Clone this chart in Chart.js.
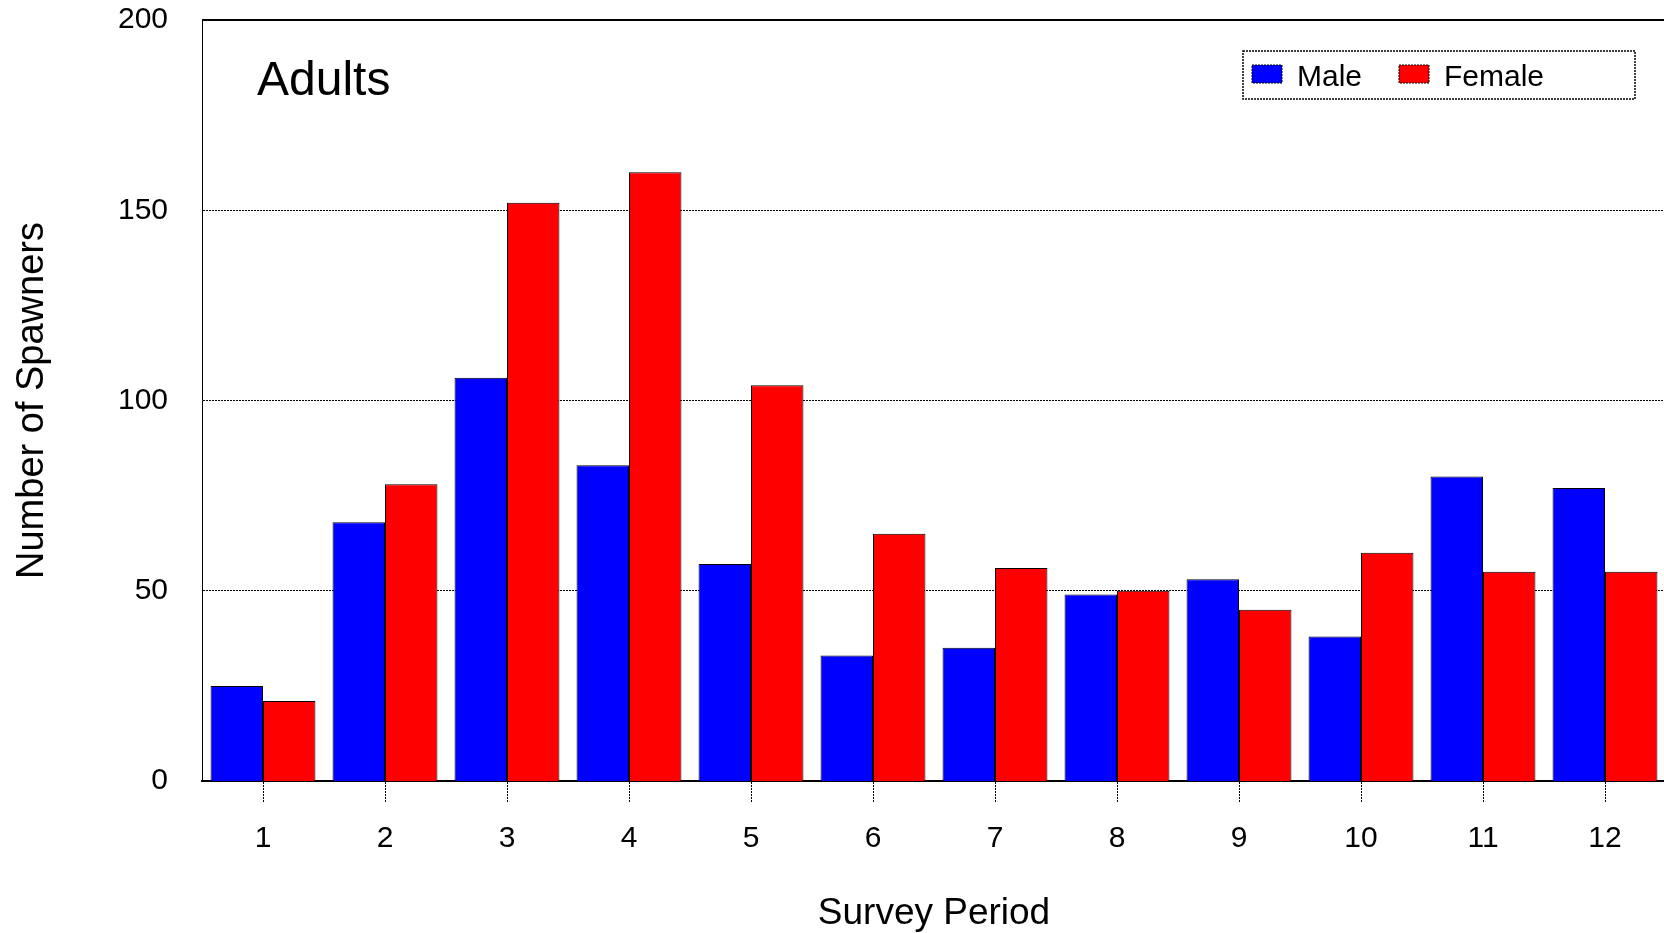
<!DOCTYPE html>
<html>
<head>
<meta charset="utf-8">
<script src="https://cdn.jsdelivr.net/npm/chart.js@4/dist/chart.umd.min.js"></script>
<style>
  html, body { margin: 0; padding: 0; background: #fff; overflow: hidden; }
  #wrap { width: 1700px; height: 933px; }
</style>
</head>
<body>
<div id="wrap"><canvas id="chart" width="1700" height="933"></canvas></div>
<script>
// survey periods along the x axis
const periods = ['1', '2', '3', '4', '5', '6', '7', '8', '9', '10', '11', '12'];
// spawner counts
const maleCounts = [25, 68, 106, 83, 57, 33, 35, 49, 53, 38, 80, 77];
const femaleCounts = [21, 78, 152, 160, 104, 65, 56, 50, 45, 60, 55, 55];
const yTicks = [0, 50, 100, 150, 200];
const panelLabel = 'Adults';

const FONT = "'Liberation Sans', Arial, sans-serif";

// draws the "Adults" label, top frame line and the boxed legend inside the plot
const insidePlot = {
  id: 'insidePlot',
  afterDraw(chart) {
    const ctx = chart.ctx;
    const area = chart.chartArea;
    ctx.save();

    // solid top frame
    ctx.strokeStyle = '#000';
    ctx.lineWidth = 2;
    ctx.beginPath();
    ctx.moveTo(area.left, area.top);
    ctx.lineTo(area.right, area.top);
    ctx.stroke();

    // panel label
    ctx.fillStyle = '#000';
    ctx.font = '48px ' + FONT;
    ctx.textBaseline = 'alphabetic';
    ctx.textAlign = 'left';
    ctx.fillText(panelLabel, area.left + 55, area.top + 75);

    // legend box
    const boxL = area.right - 423, boxT = area.top + 31;
    const boxW = 392, boxH = 48;
    ctx.fillStyle = '#fff';
    ctx.fillRect(boxL, boxT, boxW, boxH);
    ctx.setLineDash([2, 1]);
    ctx.lineWidth = 1.5;
    ctx.strokeStyle = '#000';
    ctx.strokeRect(boxL, boxT, boxW, boxH);

    const offsets = [9, 156];
    ctx.font = '30px ' + FONT;
    chart.data.datasets.forEach((ds, i) => {
      const x = boxL + offsets[i];
      ctx.setLineDash([2, 1]);
      ctx.fillStyle = ds.backgroundColor;
      ctx.fillRect(x, boxT + 14, 30, 18);
      ctx.lineWidth = 1;
      ctx.strokeRect(x, boxT + 14, 30, 18);
      ctx.setLineDash([]);
      ctx.fillStyle = '#000';
      ctx.fillText(ds.label, x + 45, boxT + 35);
    });
    ctx.restore();
  }
};

const chartData = {
  labels: periods,
  datasets: [
    {
      label: 'Male',
      data: maleCounts,
      backgroundColor: '#0000ff',
      borderColor: '#000',
      borderWidth: 1,
      categoryPercentage: 0.86,
      barPercentage: 1.0
    },
    {
      label: 'Female',
      data: femaleCounts,
      backgroundColor: '#ff0000',
      borderColor: '#000',
      borderWidth: 1,
      categoryPercentage: 0.86,
      barPercentage: 1.0
    }
  ]
};

new Chart(document.getElementById('chart').getContext('2d'), {
  type: 'bar',
  data: chartData,
  plugins: [insidePlot],
  options: {
    responsive: false,
    animation: false,
    layout: { padding: { top: 20, right: 34, bottom: 0, left: 0 } },
    plugins: {
      legend: { display: false },
      tooltip: { enabled: false },
      title: { display: false }
    },
    scales: {
      x: {
        offset: true,
        grid: {
          offset: false,
          drawOnChartArea: false,
          drawTicks: true,
          tickLength: 22,
          tickColor: '#000',
          tickWidth: 1,
          tickBorderDash: [2, 1]
        },
        border: { display: true, color: '#000', width: 2 },
        ticks: {
          color: '#000',
          padding: 18,
          font: { family: FONT, size: 30 }
        },
        title: {
          display: true,
          text: 'Survey Period',
          color: '#000',
          font: { family: FONT, size: 37, lineHeight: 1.05 },
          padding: { top: 0, bottom: 0 }
        },
        afterFit(scale) {
          scale.height = 152;
          scale.paddingLeft = 0;
          scale.paddingRight = 0;
        }
      },
      y: {
        min: 0,
        max: 200,
        afterBuildTicks(scale) { scale.ticks = yTicks.map(v => ({ value: v })); },
        grid: {
          drawTicks: false,
          color: '#000',
          lineWidth: c => (c.tick && (c.tick.value === 0 || c.tick.value === 200)) ? 0 : 1
        },
        border: { display: true, color: '#000', width: 1, dash: [2, 1] },
        ticks: {
          color: '#000',
          padding: 34,
          font: { family: FONT, size: 30 }
        },
        title: {
          display: true,
          text: 'Number of Spawners',
          color: '#000',
          font: { family: FONT, size: 38 },
          padding: { top: 10, bottom: 0 }
        },
        afterFit(scale) {
          scale.width = 202;
          scale.paddingTop = 0;
          scale.paddingBottom = 0;
        }
      }
    }
  }
});
</script>
</body>
</html>
